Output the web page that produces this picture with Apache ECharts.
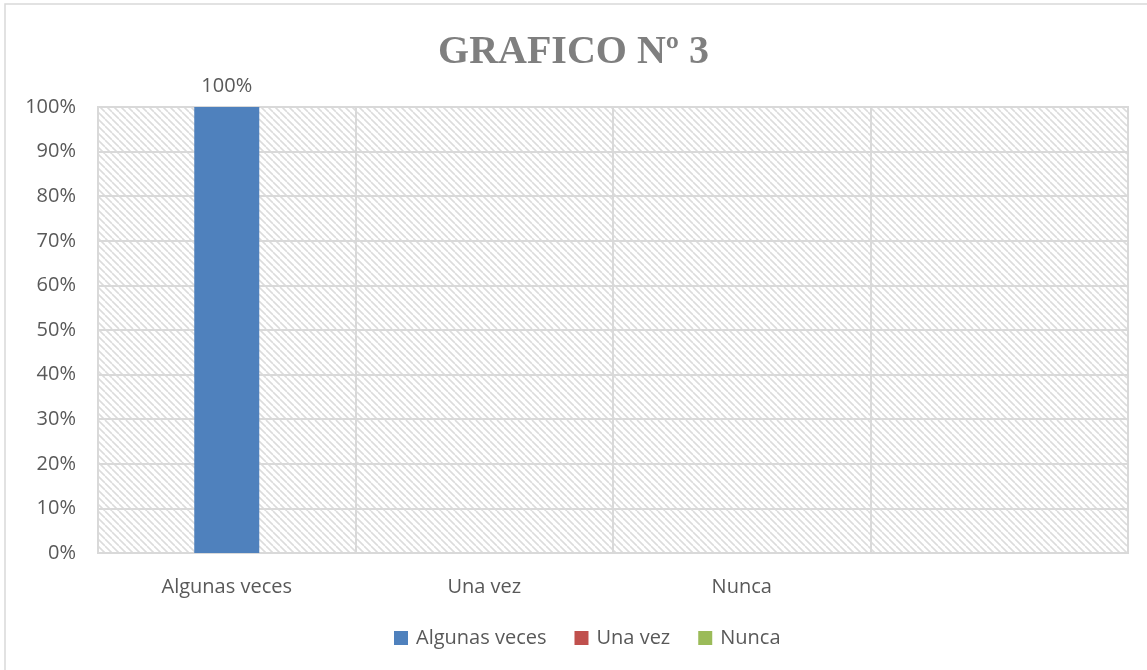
<!DOCTYPE html>
<html>
<head>
<meta charset="utf-8">
<script src="https://cdn.jsdelivr.net/npm/echarts@6/dist/echarts.min.js"></script>
<style>
  html, body { margin: 0; padding: 0; background: #fff; }
  #chart { width: 1147px; height: 670px; }
</style>
</head>
<body>
<div id="chart"></div>
<script>
const categories = ['Algunas veces', 'Una vez', 'Nunca', '']
const seriesNames = ['Algunas veces', 'Una vez', 'Nunca']
const algunasVeces = [100, null, null, null]
const unaVez = [null, null, null, null]
const nunca = [null, null, null, null]
const yTicks = [0, 10, 20, 30, 40, 50, 60, 70, 80, 90, 100]

const colors = ['#4f81bd', '#c0504d', '#9bbb59']
const textColor = '#595959'
const font = '"Open Sans", "Noto Sans", sans-serif'

// diagonal hatch for the plot area
function hatch() {
  const size = 7
  const c = document.createElement('canvas')
  c.width = size
  c.height = size
  const ctx = c.getContext('2d')
  ctx.fillStyle = '#ffffff'
  ctx.fillRect(0, 0, size, size)
  ctx.strokeStyle = '#dcdcdc'
  ctx.lineWidth = 1.6
  for (let k = -1; k <= 1; k++) {
    ctx.beginPath()
    ctx.moveTo(k * size, 0)
    ctx.lineTo(k * size + size, size)
    ctx.stroke()
  }
  return { image: c, repeat: 'repeat' }
}

const chart = echarts.init(document.getElementById('chart'))

const values = [algunasVeces, unaVez, nunca]

chart.setOption({
  animation: false,
  color: colors,
  graphic: [{
    type: 'rect',
    shape: { x: 5, y: 4, width: 1200, height: 800 },
    style: { fill: 'none', stroke: '#d9d9d9', lineWidth: 1.5 },
    silent: true,
    z: -10
  }],
  title: {
    text: 'GRAFICO Nº 3',
    left: 'center',
    top: 28,
    textStyle: {
      fontFamily: '"Liberation Serif", serif',
      fontWeight: 'bold',
      fontSize: 40,
      color: '#7f7f7f'
    }
  },
  legend: {
    data: seriesNames,
    bottom: 17,
    left: 389,
    itemWidth: 14,
    itemHeight: 14,
    itemGap: 28,
    icon: 'rect',
    textStyle: { color: textColor, fontSize: 20, fontFamily: font, padding: [0, 0, 0, 3] }
  },
  grid: {
    left: 98,
    right: 19,
    top: 107,
    bottom: 117,
    show: true,
    backgroundColor: hatch(),
    borderColor: '#d9d9d9',
    borderWidth: 2
  },
  xAxis: {
    type: 'category',
    data: categories,
    axisLine: { show: true, lineStyle: { color: '#d9d9d9', width: 2 } },
    axisTick: { show: false },
    axisLabel: { color: textColor, fontSize: 20, fontFamily: font, margin: 24 },
    splitLine: { show: true, lineStyle: { color: '#d9d9d9', width: 2 } }
  },
  yAxis: {
    type: 'value',
    min: yTicks[0],
    max: yTicks[yTicks.length - 1],
    interval: yTicks[1] - yTicks[0],
    axisLine: { show: false },
    axisTick: { show: false },
    axisLabel: {
      color: textColor,
      fontSize: 20,
      fontFamily: font,
      margin: 22,
      formatter: v => v + '%'
    },
    splitLine: { lineStyle: { color: '#d9d9d9', width: 2 } }
  },
  series: seriesNames.map((name, i) => ({
    name: name,
    type: 'bar',
    data: values[i],
    barWidth: 65,
    barGap: '-100%',
    label: {
      show: true,
      position: 'top',
      distance: 11,
      color: textColor,
      fontSize: 20,
      fontFamily: font,
      formatter: p => p.value + '%'
    }
  }))
})
</script>
</body>
</html>
